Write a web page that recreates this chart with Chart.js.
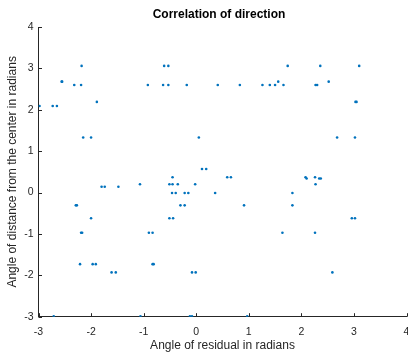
<!DOCTYPE html>
<html>
<head>
<meta charset="utf-8">
<script src="https://cdn.jsdelivr.net/npm/chart.js@4.4.1/dist/chart.umd.min.js"></script>
<style>
    html, body { margin: 0; padding: 0; background: #ffffff; }
    #wrap { width: 408px; height: 356px; }
</style>
</head>
<body>
<div id="wrap"><canvas id="mainChart" width="408" height="356"></canvas></div>
<script>
/* =========================
   DATOS
========================= */
const residualAngle = [
    -2.98, -2.73, -2.65, -2.55, -2.56, -2.32, -2.19, -2.18, -1.89, -0.92,
    -0.61, -0.53, -0.63, -0.53, -0.18, 0.41, 0.83, 1.26, 1.40, 1.50,
    1.56, 1.74, 2.36, 3.10, 1.66, 2.27, 2.30, 2.52, 3.03, 3.05,
    -2.15, -2.00, -1.80, -1.74, -1.48, -1.07, -2.29, -2.27, -2.00, 0.05,
    0.11, 0.19, -0.45, 0.59, 0.66, -0.51, -0.45, -0.35, -0.02, -0.46,
    -0.39, -0.22, -0.15, 0.36, -0.30, -0.22, 0.91, -0.51, -0.44, 2.68,
    3.02, 2.08, 2.10, 2.26, 2.34, 2.37, 2.27, 1.83, 1.83, 2.96,
    3.02, -2.19, -2.17, -0.90, -0.83, -2.21, -1.97, -1.91, -0.83, -0.81,
    -1.61, -1.53, -2.71, -1.06, -0.08, -0.01, -0.12, -0.08, 0.97, 1.64,
    2.26, 2.59
];

const distanceAngle = [
    2.09, 2.09, 2.09, 2.68, 2.68, 2.60, 2.60, 3.06, 2.19, 2.60,
    3.06, 3.06, 2.60, 2.60, 2.60, 2.60, 2.60, 2.60, 2.60, 2.60,
    2.68, 3.06, 3.06, 3.06, 2.60, 2.60, 2.60, 2.68, 2.19, 2.19,
    1.33, 1.33, 0.14, 0.14, 0.14, 0.20, -0.31, -0.31, -0.62, 1.33,
    0.57, 0.57, 0.37, 0.37, 0.37, 0.20, 0.20, 0.20, 0.20, -0.01,
    -0.01, -0.01, -0.01, -0.01, -0.31, -0.31, -0.31, -0.62, -0.62, 1.33,
    1.33, 0.37, 0.34, 0.37, 0.34, 0.34, 0.20, -0.01, -0.31, -0.62,
    -0.62, -0.97, -0.97, -0.97, -0.97, -1.73, -1.73, -1.73, -1.73, -1.73,
    -1.93, -1.93, -2.99, -2.99, -1.93, -1.93, -2.99, -2.99, -2.99, -0.97,
    -0.97, -1.93
];

const xTicks = [-3, -2, -1, 0, 1, 2, 3, 4];
const yTicks = [-3, -2, -1, 0, 1, 2, 3, 4];

const chartTitle = "Correlation of direction";
const xTitle = "Angle of residual in radians";
const yTitle = "Angle of distance from the center in radians";

/* =========================
   ESTILO
========================= */
const FONT = "'Liberation Sans', Arial, Helvetica, sans-serif";
const AXIS_COLOR = "#262626";
const POINT_COLOR = "#0072BD";

const points = residualAngle.map((x, i) => ({ x: x, y: distanceAngle[i] }));

/* TITULO Y MARCAS HACIA ADENTRO */
const matlabAxes = {
    id: "matlabAxes",
    afterDraw(chart) {
        const ctx = chart.ctx;
        const area = chart.chartArea;
        const xs = chart.scales.x;
        const ys = chart.scales.y;

        ctx.save();
        ctx.strokeStyle = AXIS_COLOR;
        ctx.lineWidth = 1;
        ctx.beginPath();
        xTicks.forEach(v => {
            const px = Math.round(xs.getPixelForValue(v)) + 0.5;
            ctx.moveTo(px, area.bottom);
            ctx.lineTo(px, area.bottom - 3.5);
        });
        yTicks.forEach(v => {
            const py = Math.round(ys.getPixelForValue(v)) + 0.5;
            ctx.moveTo(area.left, py);
            ctx.lineTo(area.left + 3.5, py);
        });
        ctx.stroke();

        ctx.fillStyle = "#000000";
        ctx.font = "bold 12px " + FONT;
        ctx.textAlign = "center";
        ctx.textBaseline = "middle";
        ctx.fillText(chartTitle, 219, 15);
        ctx.restore();
    }
};

new Chart(document.getElementById("mainChart"), {
    type: "scatter",
    data: {
        datasets: [
            {
                data: points,
                backgroundColor: POINT_COLOR,
                borderWidth: 0,
                pointRadius: 1.3,
                pointHoverRadius: 1.3
            }
        ]
    },
    options: {
        responsive: false,
        animation: false,
        events: [],
        layout: {
            padding: { top: 27, right: 1.5, left: 0, bottom: 0 }
        },
        plugins: {
            legend: { display: false },
            tooltip: { enabled: false }
        },
        scales: {
            x: {
                type: "linear",
                min: -3,
                max: 4,
                afterBuildTicks: scale => {
                    scale.ticks = xTicks.map(v => ({ value: v }));
                },
                afterFit: scale => {
                    scale.height = 39.3;
                    scale.paddingLeft = 0;
                    scale.paddingRight = 0;
                },
                grid: { display: false, drawTicks: false },
                border: { display: true, color: AXIS_COLOR, width: 1 },
                ticks: {
                    color: AXIS_COLOR,
                    font: { family: FONT, size: 10.5 },
                    padding: 9
                },
                title: {
                    display: true,
                    text: xTitle,
                    color: AXIS_COLOR,
                    font: { family: FONT, size: 12 },
                    padding: { top: 0, bottom: 3 }
                }
            },
            y: {
                type: "linear",
                min: -3,
                max: 4,
                afterBuildTicks: scale => {
                    scale.ticks = yTicks.map(v => ({ value: v }));
                },
                afterFit: scale => {
                    scale.width = 38.5;
                    scale.paddingTop = 0;
                    scale.paddingBottom = 0;
                },
                grid: { display: false, drawTicks: false },
                border: { display: true, color: AXIS_COLOR, width: 1 },
                ticks: {
                    color: AXIS_COLOR,
                    font: { family: FONT, size: 10.5 },
                    padding: 5
                },
                title: {
                    display: true,
                    text: yTitle,
                    color: AXIS_COLOR,
                    font: { family: FONT, size: 12 },
                    padding: { top: 5, bottom: 0 }
                }
            }
        }
    },
    plugins: [matlabAxes]
});
</script>
</body>
</html>
